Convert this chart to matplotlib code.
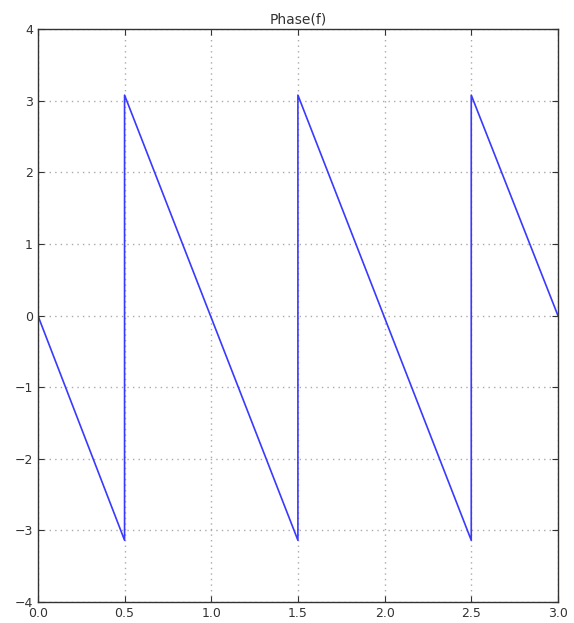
import matplotlib
matplotlib.use("Agg")
import matplotlib.pyplot as plt

# sawtooth corners of the wrapped phase
freq = [0.0, 0.5, 0.5, 1.5, 1.5, 2.5, 2.5, 3.0]
phase = [0.0, -3.14, 3.08, -3.14, 3.08, -3.14, 3.08, 0.0]

xticks = [0.0, 0.5, 1.0, 1.5, 2.0, 2.5, 3.0]
yticks = [-4, -3, -2, -1, 0, 1, 2, 3, 4]

fig = plt.figure(figsize=(5.74, 6.23), dpi=100)
ax = fig.add_axes([0.066, 0.034, 0.906, 0.919])
ax.plot(freq, phase, color="#3a3aff", lw=1.2)
ax.set_xlim(0, 3)
ax.set_ylim(-4, 4)
ax.set_xticks(xticks)
ax.set_xticklabels([f"{t:.1f}" for t in xticks])
ax.set_yticks(yticks)
ax.tick_params(direction="in", top=True, right=True, labelsize=9, colors="#333333", length=4)
ax.grid(True, ls=(0, (1, 3)), color="#aaaaaa", lw=1.0)
for s in ax.spines.values():
    s.set_color("#333333")
    s.set_linewidth(1.0)
ax.set_title("Phase(f)", fontsize=10, color="#333333", pad=4)

fig.savefig("out.png", facecolor="white")
